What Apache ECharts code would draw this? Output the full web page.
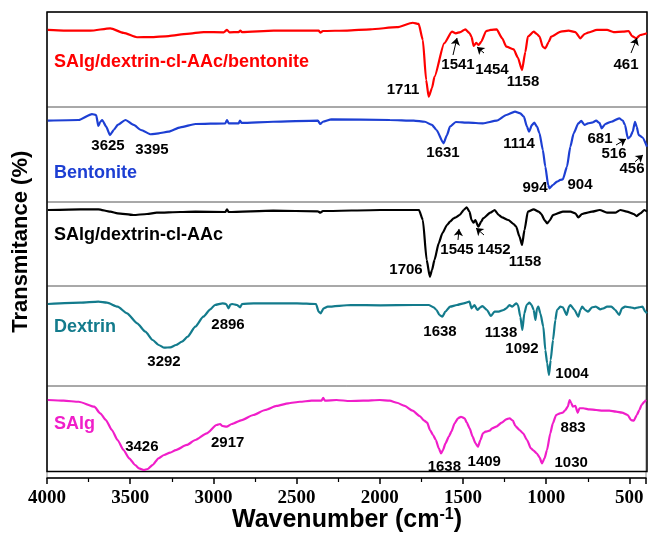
<!DOCTYPE html>
<html>
<head>
<meta charset="utf-8">
<script src="https://cdn.jsdelivr.net/npm/echarts@6/dist/echarts.min.js"></script>
<style>
  html, body { margin: 0; padding: 0; background: #fff; }
  #chart { width: 649px; height: 538px; }
</style>
</head>
<body>
<div id="chart"></div>
<script>
// FTIR spectra, [wavenumber, transmittance (panel %)]
var bentoniteComposite = [
  [3995, 81.1], [3900, 80.5], [3740, 80.3], [3620, 82.8], [3540, 78], [3460, 73.4], [3380, 73.5], [3270, 74.7],
  [3160, 77], [3060, 78.9], [2940, 78.6], [2920, 81.1], [2905, 78.6], [2850, 78.9], [2840, 80.3], [2830, 78.9],
  [2640, 80.3], [2410, 80.3], [2370, 80.3], [2360, 78.2], [2345, 80], [2200, 80.5], [2060, 81.8], [1900, 84],
  [1805, 88.7], [1770, 87.4], [1745, 70.5], [1725, 28.4], [1710, 10.8], [1690, 20], [1675, 31.9], [1617, 67],
  [1570, 79.3], [1547, 77.6], [1520, 78.9], [1490, 81.8], [1465, 77.9], [1453, 74], [1440, 64.2], [1425, 67.4],
  [1410, 65.3], [1395, 68.7], [1365, 80], [1337, 81.1], [1302, 81.8], [1270, 72.6], [1244, 63.5], [1200, 60.7],
  [1175, 52], [1150, 38.9], [1130, 57.9], [1115, 74], [1080, 79.3], [1060, 76.8], [1045, 74], [1025, 63.2],
  [1010, 61.8], [990, 68.4], [975, 74], [917, 79.3], [870, 80.3], [830, 78.9], [800, 72.3], [775, 76.8],
  [754, 78.2], [700, 81.1], [640, 81.1], [600, 78.9], [544, 79.3], [510, 80], [490, 74.7], [465, 72.3],
  [440, 75.8], [400, 77.6]
];
var bentonite = [
  [3995, 85.6], [3810, 86.3], [3730, 92.6], [3705, 91.6], [3692, 80], [3680, 84.5], [3669, 86.3], [3645, 79.3],
  [3622, 70.5], [3600, 75.8], [3576, 81.1], [3529, 86.3], [3480, 81.1], [3436, 75.8], [3377, 71.3], [3330, 72.3],
  [3272, 74], [3200, 78.6], [3109, 82.1], [2930, 82.8], [2920, 86.3], [2910, 82.8], [2850, 82.8], [2842, 85.6],
  [2832, 83.2], [2643, 84.5], [2375, 85.6], [2360, 82.1], [2345, 84.5], [2293, 87], [1943, 86.3], [1800, 85.6],
  [1733, 84.5], [1690, 81.1], [1663, 75.8], [1621, 61.8], [1600, 70.5], [1582, 79.3], [1547, 84.2], [1470, 83.5],
  [1384, 82.8], [1302, 85.6], [1244, 91.6], [1192, 95.1], [1160, 93.3], [1139, 89.8], [1120, 79.3], [1108, 74],
  [1090, 81.1], [1076, 83.5], [1060, 79.3], [1045, 72.3], [1025, 54.7], [1010, 37.2], [993, 17.9], [985, 14.4],
  [965, 17.9], [940, 21.4], [920, 23.2], [905, 23.9], [880, 37.2], [860, 58.2], [840, 72.3], [812, 82.8],
  [795, 85.3], [775, 81.1], [754, 82.8], [731, 83.5], [705, 85.6], [685, 83.2], [672, 77.6], [650, 82.1],
  [614, 84.5], [567, 88.1], [545, 85.6], [532, 81.1], [515, 67], [500, 68.7], [486, 74], [472, 84.5],
  [462, 79.3], [450, 70.5], [428, 68.1], [400, 58.2]
];
var grafted = [
  [3995, 90.5], [3800, 91.3], [3692, 91.3], [3620, 88.5], [3576, 86.5], [3482, 84.5], [3400, 85.7], [3342, 87.3],
  [3200, 88.1], [3109, 88.5], [2930, 88.1], [2920, 91.3], [2910, 88.1], [2643, 89.7], [2375, 88.9], [2360, 87.3],
  [2345, 89.3], [2000, 90.5], [1768, 90.5], [1745, 78.6], [1722, 31], [1703, 11.1], [1690, 19], [1675, 31],
  [1650, 50.8], [1628, 62.7], [1600, 72.6], [1582, 76.6], [1560, 80.6], [1547, 81.7], [1524, 84.5], [1500, 90.5],
  [1482, 93.7], [1465, 88.5], [1453, 78.6], [1440, 75.4], [1430, 78.6], [1412, 70.6], [1395, 76.6], [1383, 80.6],
  [1340, 87.3], [1314, 90.5], [1290, 84.5], [1270, 81.7], [1232, 78.6], [1200, 73.8], [1185, 70.6], [1165, 58.7],
  [1150, 48.8], [1135, 66.7], [1115, 88.5], [1080, 91.3], [1050, 88.5], [1034, 85.7], [1015, 78.6], [999, 74.6],
  [985, 77.7], [964, 84.5], [905, 88.5], [859, 88.5], [830, 86.5], [812, 81.7], [790, 85.7], [777, 86.5],
  [730, 88.5], [684, 90.5], [640, 87.3], [591, 87.3], [560, 90.5], [521, 88.5], [480, 85.7], [462, 83.3],
  [440, 86.5], [416, 90.5], [400, 88.5]
];
var dextrin = [
  [3995, 82], [3800, 83.3], [3692, 84.3], [3640, 83.3], [3576, 79.3], [3520, 72.7], [3459, 62.7], [3410, 54.3],
  [3366, 46], [3330, 41], [3296, 38.3], [3260, 38.7], [3226, 41], [3190, 44.3], [3156, 49.3], [3110, 59.3],
  [3062, 69.3], [3020, 76.7], [2993, 81], [2946, 82.7], [2925, 82], [2911, 77.7], [2900, 81.3], [2888, 82],
  [2860, 81], [2841, 78.7], [2830, 82], [2760, 82.7], [2643, 82.7], [2500, 82.7], [2386, 82], [2370, 74.3],
  [2358, 72.7], [2340, 77.7], [2316, 79.3], [2176, 81], [2000, 80.7], [1800, 81], [1710, 81], [1680, 78.7],
  [1663, 76], [1645, 71], [1628, 69.3], [1610, 74.3], [1582, 79.3], [1540, 81], [1500, 82.7], [1465, 84.3],
  [1453, 77.7], [1435, 81], [1418, 76], [1400, 78.7], [1388, 80], [1360, 76], [1337, 70], [1315, 74.3],
  [1290, 74.3], [1260, 76], [1244, 77.7], [1225, 81], [1209, 79.3], [1185, 82.7], [1174, 81], [1160, 69.3],
  [1148, 56], [1136, 72.7], [1122, 81], [1105, 83.3], [1092, 81], [1080, 76], [1069, 66], [1060, 77.7],
  [1052, 79.3], [1040, 72.7], [1022, 59.3], [1010, 36], [999, 22.7], [988, 11], [978, 26], [964, 46],
  [950, 66], [940, 76], [920, 79.3], [905, 78.7], [882, 71], [868, 79.3], [859, 81], [835, 76],
  [812, 69.3], [800, 76], [789, 79.3], [770, 76], [754, 74.3], [730, 78.7], [707, 79.3], [680, 76.7],
  [661, 77.7], [640, 79.3], [614, 79.3], [590, 76], [567, 71], [550, 77.7], [532, 79.3], [500, 78.7],
  [474, 77.7], [450, 78.7], [427, 79.3], [410, 74.3], [400, 72.7]
];
var salg = [
  [3995, 84.8], [3900, 84], [3809, 82.9], [3716, 77.5], [3680, 70.3], [3646, 63], [3610, 52.2], [3576, 41.3],
  [3540, 30.4], [3506, 21.4], [3470, 14.1], [3447, 10.5], [3417, 8.7], [3395, 9.8], [3366, 14.1], [3330, 21.4],
  [3296, 25], [3260, 27.5], [3226, 30.4], [3160, 35.9], [3109, 41.3], [3040, 48.6], [2981, 57.6], [2960, 58.7],
  [2946, 56.5], [2920, 55.8], [2890, 58.7], [2829, 63], [2760, 68.5], [2689, 73.9], [2620, 78.3], [2550, 81.2],
  [2480, 82.9], [2410, 84], [2350, 84], [2340, 87], [2330, 84], [2260, 84.8], [2180, 83.7], [2100, 84],
  [2000, 84.8], [1940, 84], [1897, 81.8], [1850, 78.3], [1803, 73.2], [1760, 67.4], [1733, 62.3], [1715, 60.1],
  [1698, 52.2], [1680, 46.7], [1663, 41.3], [1645, 32.2], [1632, 26.8], [1620, 30.4], [1605, 37.7], [1585, 44.9],
  [1570, 50.3], [1550, 59.4], [1530, 64.9], [1512, 66.6], [1490, 64.9], [1477, 60.1], [1460, 54], [1442, 44.9],
  [1425, 37.7], [1410, 34], [1395, 41.3], [1380, 48.6], [1365, 50.3], [1340, 51.4], [1325, 54], [1300, 55.8],
  [1267, 60.1], [1240, 63.8], [1220, 64.9], [1200, 62.3], [1185, 56.5], [1160, 52.2], [1139, 48.6], [1115, 41.3],
  [1092, 32.2], [1075, 29.7], [1057, 26.8], [1040, 22.5], [1025, 16], [1010, 21.4], [995, 30.4], [975, 48.6],
  [960, 59.4], [940, 68.5], [917, 70.3], [900, 71], [885, 73.9], [870, 77.5], [859, 84.8], [850, 81.8],
  [840, 77.5], [825, 78.3], [810, 71], [800, 75.8], [777, 75.8], [740, 74.6], [700, 73.9], [661, 73.2],
  [620, 73.2], [580, 72.1], [544, 71], [510, 68.5], [490, 63], [474, 62.3], [455, 68.5], [440, 73.9],
  [427, 79.3], [410, 82.9], [400, 84.8]
];

// peak labels: [x, y, text]
var peaks1 = [[1864, 17.9, '1711'], [1534, 44.2, '1541'], [1330, 38.9, '1454'], [1144, 26.3, '1158'], [526, 44.2, '461']];
var peaks2 = [[3634, 58.9, '3625'], [3370, 54.7, '3395'], [1624, 51.6, '1631'], [1168, 61.1, '1114'], [1072, 14.7, '994'],
  [802, 17.9, '904'], [682, 66.3, '681'], [598, 50.5, '516'], [490, 34.7, '456']];
var peaks3 = [[1846, 19, '1706'], [1540, 42.9, '1545'], [1318, 42.9, '1452'], [1132, 28.6, '1158']];
var peaks4 = [[3298, 24, '3292'], [2914, 61, '2896'], [1642, 54, '1638'], [1276, 53, '1138'], [1150, 37, '1092'], [850, 12, '1004']];
var peaks5 = [[3430, 33.7, '3426'], [2914, 38, '2917'], [1612, 12, '1638'], [1372, 17.4, '1409'], [850, 16.3, '1030'], [838, 54.3, '883']];

// arrows: [fromX, fromY, toX, toY]
var arrows1 = [[1564, 54.7, 1540, 72.6], [1378, 56.8, 1420, 63.2], [496, 56.8, 460, 72.6]];
var arrows2 = [[586, 60, 526, 66.3], [472, 42.4, 424, 49.5]];
var arrows3 = [[1534, 54.8, 1528, 67.9], [1378, 60.7, 1426, 69]];

var names = ['SAlg/dextrin-cl-AAc/bentonite', 'Bentonite', 'SAlg/dextrin-cl-AAc', 'Dextrin', 'SAlg'];
var nameY = [47.4, 30.5, 60.7, 59, 58.7];
var colors = ['#ff0000', '#1d3fd3', '#000000', '#137b8c', '#f01ec9'];
var spectra = [bentoniteComposite, bentonite, grafted, dextrin, salg];
var peaks = [peaks1, peaks2, peaks3, peaks4, peaks5];
var arrows = [arrows1, arrows2, arrows3, [], []];

// panel layout (px)
var panelTop = [12, 107, 202, 286, 386];
var panelH = [95, 95, 84, 100, 92];

var sans = 'Arial, "Liberation Sans", Helvetica, sans-serif';
var myChart = echarts.init(document.getElementById('chart'));

var grids = [], xAxes = [], yAxes = [], series = [];
for (var i = 0; i < 5; i++) {
  grids.push({left: 47, right: 2, top: panelTop[i], height: panelH[i], show: true, borderColor: '#8c8c8c', borderWidth: 1});
  var last = i === 4;
  xAxes.push({
    gridIndex: i, type: 'value', min: 400, max: 4000, inverse: true, splitNumber: 7,
    show: last,
    axisLine: {show: last, onZero: false, lineStyle: {color: '#000', width: 1.5}},
    axisTick: {show: true, length: 6, lineStyle: {color: '#000', width: 1.5}},
    minorTick: {show: true, splitNumber: 2, length: 4, lineStyle: {color: '#000', width: 1.2}},
    splitLine: {show: false},
    axisLabel: {
      show: last, margin: 11, color: '#000', fontSize: 19, fontWeight: 'bold',
      fontFamily: '"Liberation Serif", "Times New Roman", serif',
      formatter: function (v) { return v % 500 === 0 ? String(v) : ''; }
    }
  });
  yAxes.push({gridIndex: i, type: 'value', min: 0, max: 100, show: false});
  series.push({
    type: 'line', xAxisIndex: i, yAxisIndex: i, data: spectra[i],
    showSymbol: false, smooth: 0.2, smoothMonotone: 'x', silent: true,
    lineStyle: {color: colors[i], width: 2.2},
    markLine: {
      silent: true, symbol: ['none', 'arrow'], symbolSize: 7,
      label: {show: false},
      lineStyle: {color: '#000', width: 1, type: 'solid'},
      data: arrows[i].map(function (a) { return [{coord: [a[0], a[1]]}, {coord: [a[2], a[3]]}]; })
    }
  });
  series.push({
    type: 'scatter', xAxisIndex: i, yAxisIndex: i, data: peaks[i], symbolSize: 0, silent: true,
    itemStyle: {opacity: 1},
    label: {
      show: true, position: 'inside', color: '#000', opacity: 1, fontSize: 15, fontWeight: 'bold', fontFamily: sans,
      formatter: function (p) { return p.data[2]; }
    }
  });
  series.push({
    type: 'scatter', xAxisIndex: i, yAxisIndex: i, data: [[3958, nameY[i], names[i]]], symbolSize: 0, silent: true,
    itemStyle: {opacity: 1},
    label: {
      show: true, position: 'right', distance: 0, color: colors[i], opacity: 1, fontSize: 18, fontWeight: 'bold', fontFamily: sans,
      formatter: function (p) { return p.data[2]; }
    }
  });
}

// outer frame + axis titles
grids.push({left: 47, right: 2, top: 12, bottom: 60, show: true, borderColor: '#000', borderWidth: 1.5});
xAxes.push({
  gridIndex: 5, type: 'value', min: 400, max: 4000, inverse: true,
  axisLine: {show: false}, axisTick: {show: false}, axisLabel: {show: false}, splitLine: {show: false},
  name: '{a|Wavenumber (cm}{b|-1}{a|)}', nameLocation: 'middle', nameGap: 35,
  nameTextStyle: {
    rich: {
      a: {fontSize: 25, fontWeight: 'bold', color: '#000', fontFamily: sans, lineHeight: 28},
      b: {fontSize: 16, fontWeight: 'bold', color: '#000', fontFamily: sans, verticalAlign: 'top', lineHeight: 18}
    }
  }
});
yAxes.push({
  gridIndex: 5, type: 'value', min: 0, max: 100,
  axisLine: {show: false}, axisTick: {show: false}, axisLabel: {show: false}, splitLine: {show: false},
  name: 'Transmitance (%)', nameLocation: 'middle', nameGap: 15, nameRotate: 90,
  nameTextStyle: {fontSize: 22, fontWeight: 'bold', color: '#000', fontFamily: sans}
});

var option = {
  animation: false,
  backgroundColor: '#fff',
  grid: grids,
  xAxis: xAxes,
  yAxis: yAxes,
  series: series
};
myChart.setOption(option);
</script>
</body>
</html>
